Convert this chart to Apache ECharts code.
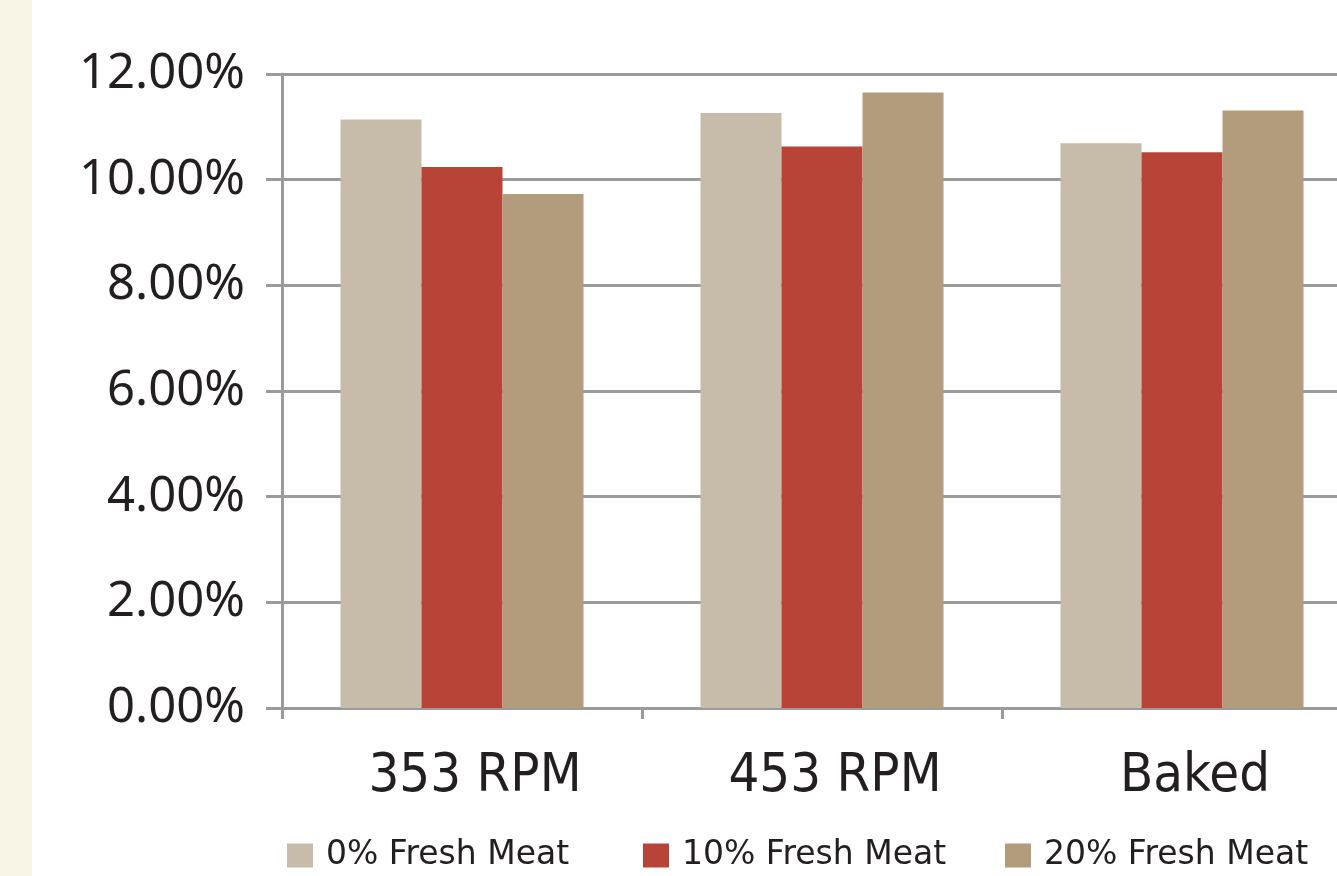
<!DOCTYPE html>
<html>
<head>
<meta charset="utf-8">
<script src="https://cdn.jsdelivr.net/npm/echarts@6/dist/echarts.min.js"></script>
<style>
html,body{margin:0;padding:0;background:#ffffff;}
#chart{width:1337px;height:876px;}
</style>
</head>
<body>
<div id="chart"></div>
<script>
var categories = ['353 RPM', '453 RPM', 'Baked'];
var seriesNames = ['0% Fresh Meat', '10% Fresh Meat', '20% Fresh Meat'];
var fresh0 = [11.14, 11.26, 10.69];
var fresh10 = [10.24, 10.63, 10.52];
var fresh20 = [9.73, 11.65, 11.31];
var yTicks = [0, 2, 4, 6, 8, 10, 12];

var colors = ['#c7bba9', '#b84437', '#b39c7c'];
var values = [fresh0, fresh10, fresh20];
var legendLefts = [287, 643, 1005];

var chart = echarts.init(document.getElementById('chart'), null, {renderer: 'canvas'});
var option = {
  animation: false,
  backgroundColor: '#ffffff',
  graphic: [{
    type: 'rect', left: 0, top: 0, z: -10,
    shape: {width: 32, height: 876},
    style: {fill: '#f8f5e7'}
  }],
  grid: {left: 282, top: 74, height: 634, width: 1080, containLabel: false, outerBoundsMode: 'none'},
  legend: seriesNames.map(function (n, i) {
    return {
      left: legendLefts[i], top: 839, padding: 0,
      itemWidth: 26, itemHeight: 24,
      icon: 'rect',
      textStyle: {fontFamily: 'DejaVu Sans', fontSize: 33, color: '#231f20', padding: [0, 0, 0, 8]},
      data: [n]
    };
  }),
  xAxis: {
    type: 'category', data: categories,
    axisLine: {lineStyle: {color: '#9a9b9d', width: 3}},
    axisTick: {show: true, length: 11, lineStyle: {color: '#9a9b9d', width: 3}},
    axisLabel: {
      fontFamily: "'Liberation Sans Narrow', 'DejaVu Sans Condensed', sans-serif",
      fontSize: 54, color: '#231f20', margin: 42, padding: [0, 0, 0, 26]
    }
  },
  yAxis: {
    type: 'value', min: 0, max: 12, interval: 2,
    axisLine: {show: true, lineStyle: {color: '#9a9b9d', width: 3}},
    axisTick: {show: true, length: 16, lineStyle: {color: '#9a9b9d', width: 3}},
    splitLine: {lineStyle: {color: '#9a9b9d', width: 3}},
    axisLabel: {
      fontFamily: 'Noto Sans', fontSize: 49, color: '#231f20', margin: 37,
      formatter: function (v) { return yTicks.indexOf(v) >= 0 ? v.toFixed(2) + '%' : ''; }
    }
  },
  series: seriesNames.map(function (n, i) {
    return {
      name: n, type: 'bar', data: values[i],
      barWidth: 81, barGap: '0%',
      itemStyle: {color: colors[i]}
    };
  })
};
chart.setOption(option);
</script>
</body>
</html>
